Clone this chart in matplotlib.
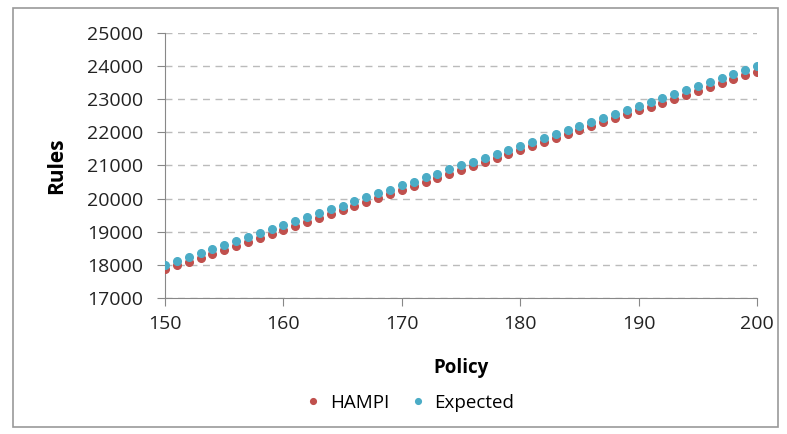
import matplotlib.pyplot as plt
from matplotlib.patches import Rectangle

# данные
policy = list(range(150, 201))
expected = [18000, 18110, 18230, 18370, 18480, 18600, 18720, 18850, 18960, 19080,
            19190, 19310, 19440, 19560, 19680, 19790, 19920, 20040, 20160, 20270,
            20400, 20510, 20640, 20750, 20880, 21000, 21110, 21240, 21350, 21480,
            21600, 21710, 21840, 21950, 22080, 22200, 22310, 22440, 22560, 22680,
            22800, 22910, 23040, 23150, 23280, 23400, 23510, 23640, 23760, 23870,
            24000]
hampi = [17880, 17990, 18100, 18210, 18330, 18460, 18580, 18700, 18810, 18940,
         19060, 19170, 19300, 19420, 19540, 19660, 19780, 19900, 20020, 20140,
         20260, 20380, 20500, 20620, 20740, 20860, 20980, 21100, 21220, 21340,
         21460, 21580, 21700, 21820, 21940, 22060, 22180, 22300, 22420, 22540,
         22660, 22780, 22900, 23020, 23140, 23260, 23380, 23500, 23620, 23740,
         23830]
xticks = [150, 160, 170, 180, 190, 200]
yticks = list(range(17000, 25001, 1000))

plt.rcParams['font.family'] = ['Open Sans', 'DejaVu Sans']

fig = plt.figure(figsize=(7.87, 4.34), dpi=100)
ax = fig.add_axes([0.2097, 0.3134, 0.7523, 0.6106])

c_red = '#C0504D'
c_blue = '#4BACC6'
ax.plot(policy, hampi, 'o', color=c_red, markersize=5.5, label='HAMPI', zorder=3)
ax.plot(policy, expected, 'o', color=c_blue, markersize=5.5, label='Expected', zorder=4)

ax.set_xlim(150, 200)
ax.set_ylim(17000, 25000)
ax.set_xticks(xticks)
ax.set_yticks(yticks)
ax.grid(axis='y', color='#BBBBBB', linestyle=(0, (5, 4)), linewidth=1)
ax.set_axisbelow(True)

for s in ['top', 'right']:
    ax.spines[s].set_visible(False)
for s in ['left', 'bottom']:
    ax.spines[s].set_color('#888888')
ax.tick_params(axis='both', direction='out', length=6, color='#888888',
               labelsize=14, labelcolor='#222222')
ax.tick_params(axis='y', pad=10)
ax.tick_params(axis='x', pad=6)

ax.set_xlabel('Policy', fontsize=13.5, fontweight='bold', labelpad=18)
ax.set_ylabel('Rules', fontsize=15, fontweight='bold', labelpad=14)

fig.legend(loc='center', bbox_to_anchor=(0.52, 0.072), ncol=2, frameon=False,
           fontsize=13.5, handlelength=1.0, handletextpad=0.4, columnspacing=1.0,
           markerscale=0.75)

# рамка вокруг всей картинки
fig.patches.append(Rectangle((0.016, 0.015), 0.972, 0.966, transform=fig.transFigure,
                             fill=False, edgecolor='#999999', linewidth=1.2))

plt.savefig('out.png', dpi=100)
